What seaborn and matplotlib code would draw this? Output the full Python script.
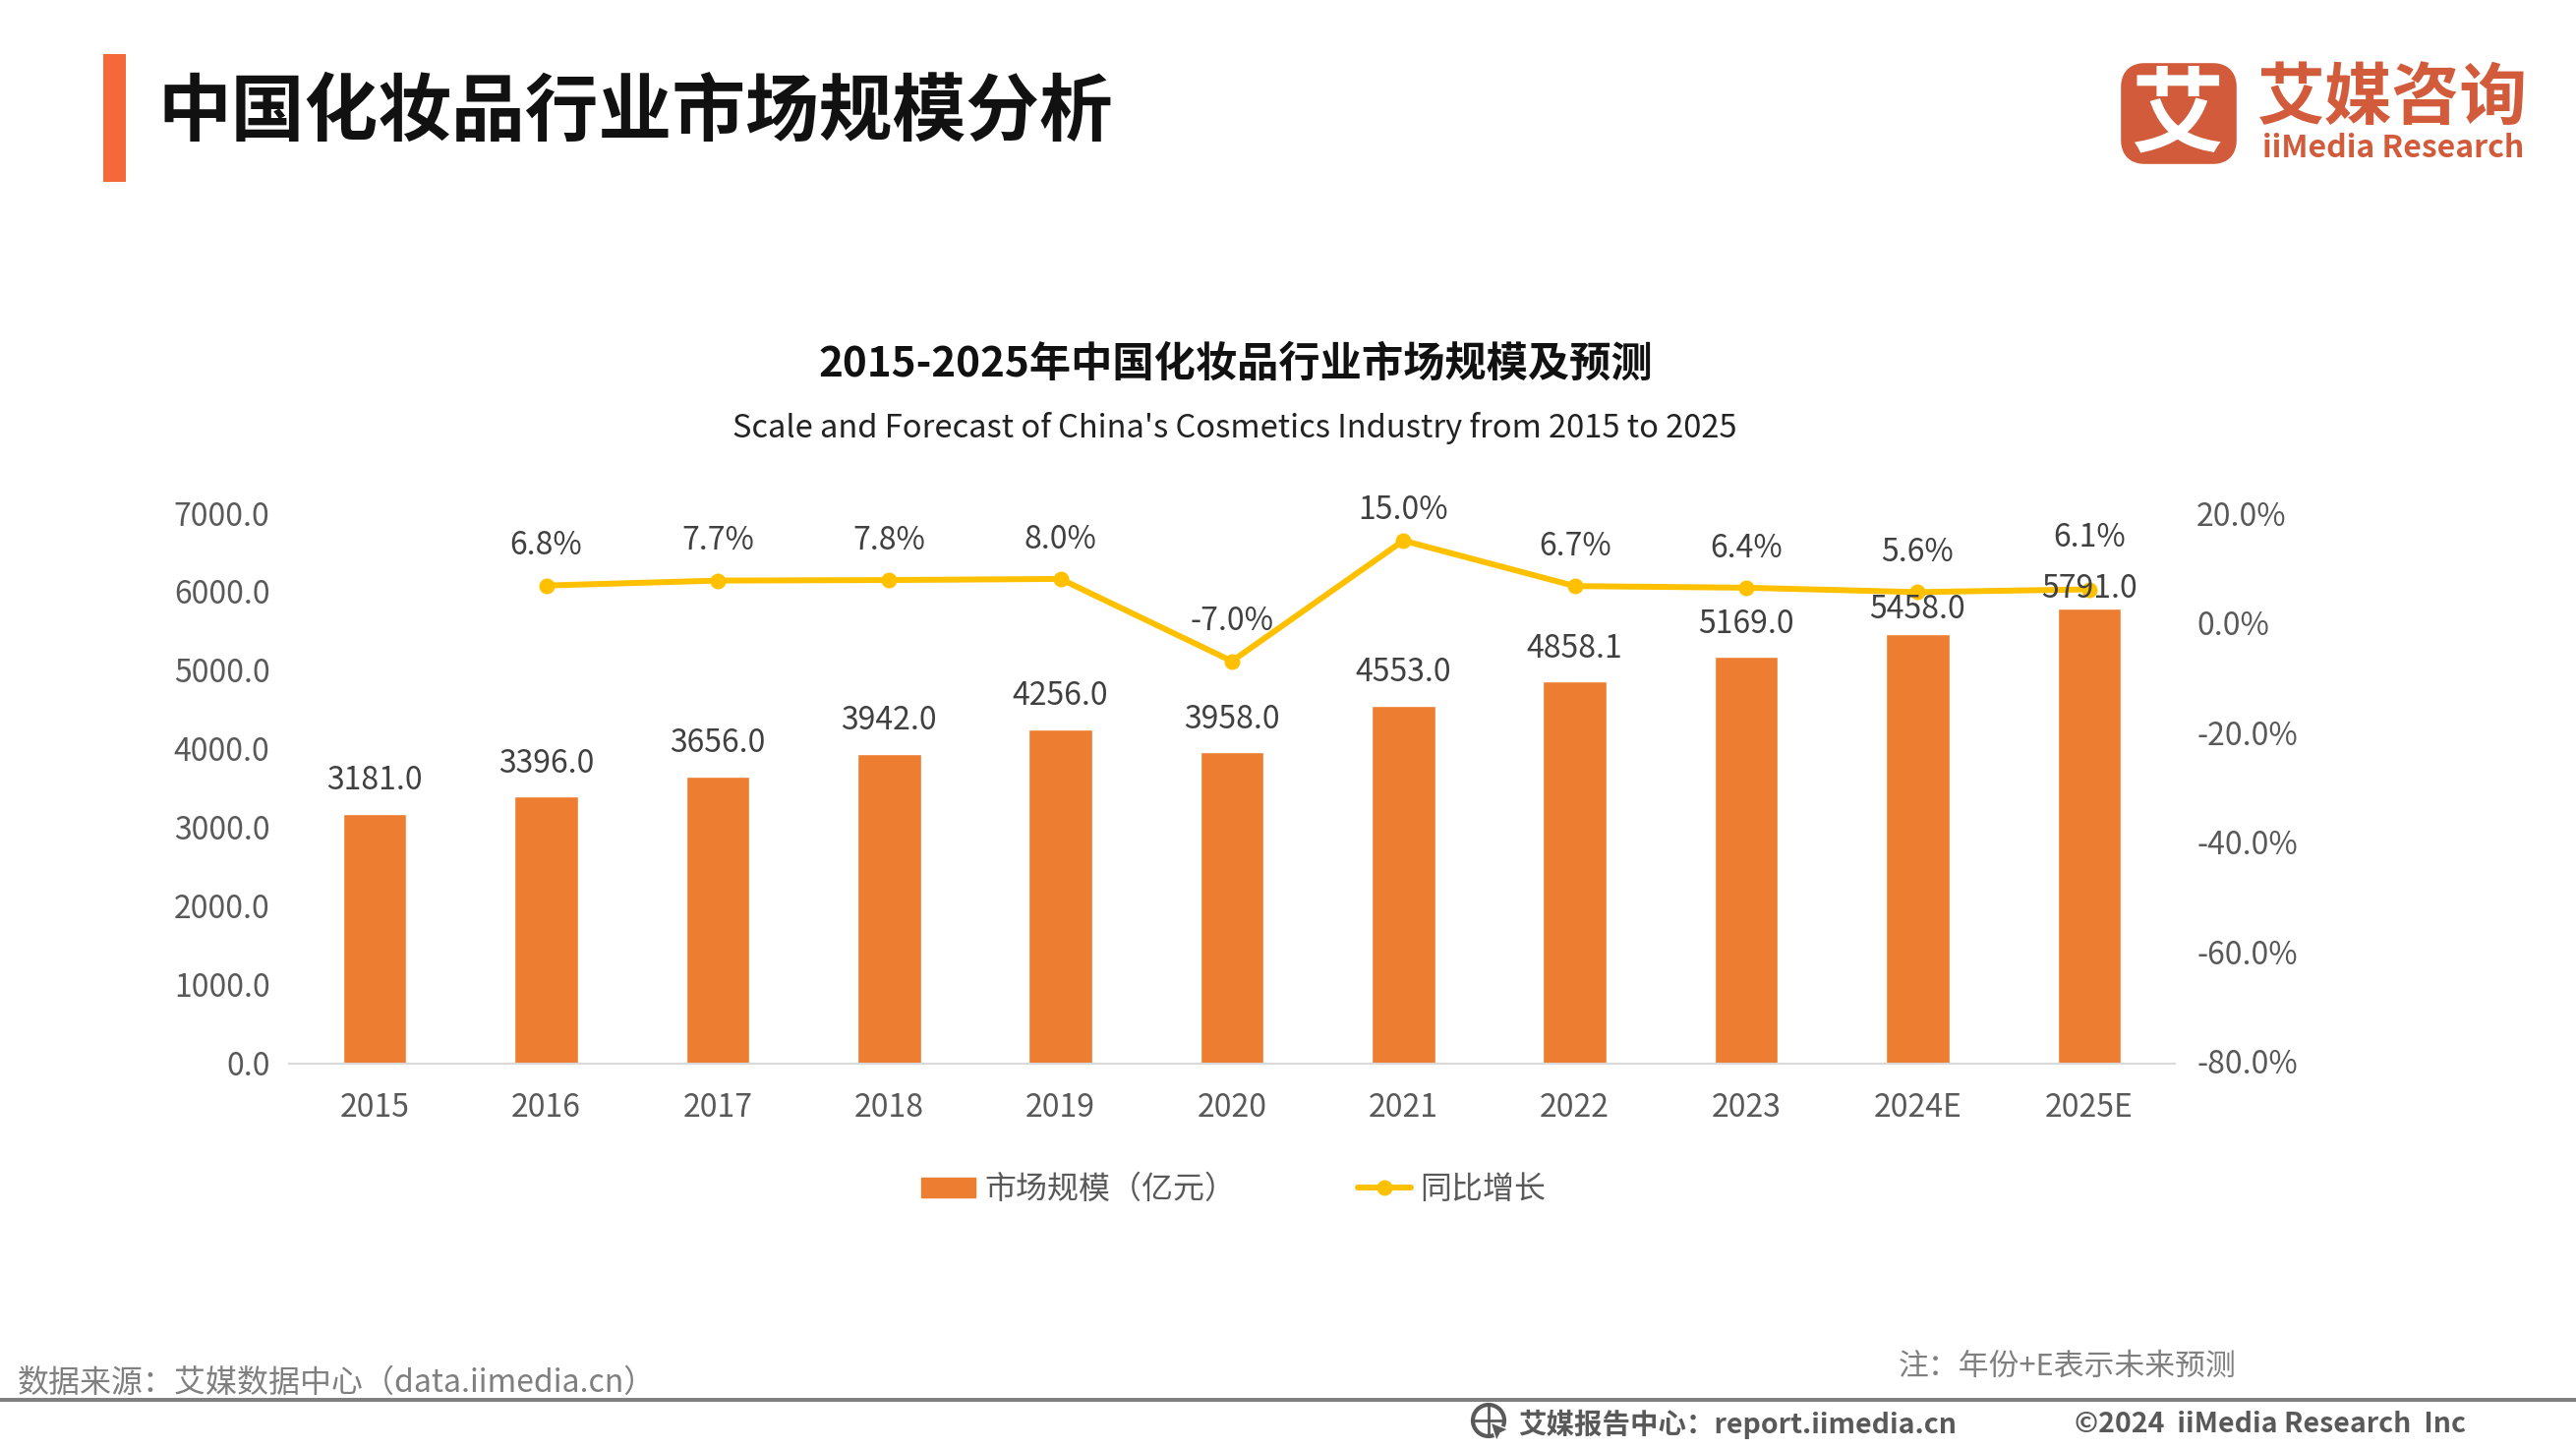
import matplotlib
matplotlib.use("Agg")
import matplotlib.pyplot as plt
from matplotlib.patches import FancyBboxPatch, Rectangle, Circle, Patch, Polygon
from matplotlib.lines import Line2D
import pandas as pd
import seaborn as sns

# ---- data ----
years = ["2015", "2016", "2017", "2018", "2019", "2020", "2021", "2022", "2023", "2024E", "2025E"]
market_size = [3181.0, 3396.0, 3656.0, 3942.0, 4256.0, 3958.0, 4553.0, 4858.1, 5169.0, 5458.0, 5791.0]
growth_years = ["2016", "2017", "2018", "2019", "2020", "2021", "2022", "2023", "2024E", "2025E"]
growth = [6.8, 7.7, 7.8, 8.0, -7.0, 15.0, 6.7, 6.4, 5.6, 6.1]
left_ticks = [0, 1000, 2000, 3000, 4000, 5000, 6000, 7000]
right_ticks = [-80, -60, -40, -20, 0, 20]

# ---- styles ----
W, H = 2620, 1474
sns.set_theme(style="white")
plt.rcParams["font.family"] = ["Noto Sans CJK SC", "DejaVu Sans"]
ORANGE = "#ED7D31"
YELLOW = "#FFC000"
TICK = "#595959"
LABEL = "#404040"
BRAND = "#D15B3B"
FS = 23

# label offsets in points above the mark
bar_off = {"2024E": 18, "2025E": 14}
pct_off = {"2021": 22, "2025E": 38}

fig = plt.figure(figsize=(W / 100, H / 100), dpi=100, facecolor="white")
ax = fig.add_axes([294 / W, 1 - 1082 / H, (2212 - 294) / W, 560 / H])

df = pd.DataFrame({"year": years, "size": market_size})
sns.barplot(data=df, x="year", y="size", color=ORANGE, saturation=1, width=0.37, ax=ax, order=years)
ax.set_xlim(-0.5, 10.5)
ax.set_ylim(0, 7000)
ax.set_yticks(left_ticks)
ax.set_yticklabels([f"{v:.1f}" for v in left_ticks], fontsize=FS, color=TICK, fontweight="light")
ax.tick_params(axis="x", labelsize=FS, labelcolor=TICK, length=0, pad=21)
for t in ax.get_xticklabels():
    t.set_fontweight("light")
ax.tick_params(axis="y", length=0, pad=14)
ax.set_xlabel("")
ax.set_ylabel("")
for s in ["top", "left", "right"]:
    ax.spines[s].set_visible(False)
ax.spines["bottom"].set_color("#D9D9D9")
ax.spines["bottom"].set_linewidth(1.5)

ax2 = ax.twinx()
gdf = pd.DataFrame({"year": growth_years, "growth": growth})
sns.lineplot(data=gdf, x="year", y="growth", sort=False, color=YELLOW, linewidth=4.3, marker="o",
             markersize=11.5, markeredgewidth=0, ax=ax2, legend=False, errorbar=None)
ax2.set_ylim(-80.4, 19.6)
ax2.set_xlim(-0.5, 10.5)
ax2.set_yticks(right_ticks)
ax2.set_yticklabels([f"{v:.1f}%" for v in right_ticks], fontsize=FS, color=TICK, fontweight="light")
ax2.tick_params(axis="y", length=0, pad=16)
ax2.set_xlabel("")
ax2.set_ylabel("")
for s in ax2.spines.values():
    s.set_visible(False)

# bar labels live on the upper axes so they are drawn over the line, as in the reference
for i, (y, v) in enumerate(zip(years, market_size)):
    ax2.annotate(f"{v:.1f}", (i, v), xycoords=ax.transData, xytext=(0, bar_off.get(y, 24)),
                 textcoords="offset points", ha="center", va="center", fontsize=FS, color=LABEL,
                 fontweight="light", zorder=10)
for y, v in zip(growth_years, growth):
    ax2.annotate(f"{v:.1f}%", (years.index(y), v), xytext=(0, pct_off.get(y, 29)), textcoords="offset points",
                 ha="center", va="center", fontsize=FS, color=LABEL, fontweight="light", zorder=10)

# legend
handles = [Patch(color=ORANGE, label="市场规模（亿元）"),
           Line2D([0], [0], color=YELLOW, lw=4.3, marker="o", ms=11.5, mew=0, label="同比增长")]
fig.legend(handles=handles, loc="center", bbox_to_anchor=(1255 / W, 1 - 1210 / H), ncol=2, frameon=False,
           prop={"size": FS, "weight": "light"}, labelcolor=TICK, handlelength=1.7, handletextpad=0.3,
           columnspacing=3.86, handleheight=0.6)

def T(x, y, s, **kw):
    kw.setdefault("va", "center")
    return fig.text(x / W, 1 - y / H, s, **kw)

# header
fig.add_artist(Rectangle((105 / W, 1 - 185 / H), 23 / W, 130 / H, transform=fig.transFigure, color="#F4683A", lw=0))
T(160, 115, "中国化妆品行业市场规模分析", fontsize=53.8, fontweight="bold", color="#111111")
T(1257, 371, "2015-2025年中国化妆品行业市场规模及预测", fontsize=30.4, fontweight="bold", color="#111111", ha="center")
T(1256, 435, "Scale and Forecast of China's Cosmetics Industry from 2015 to 2025", fontsize=23.5, color="#222222", ha="center")

# logo
overlay = fig.add_axes([0, 0, 1, 1], facecolor="none")
overlay.set_xlim(0, W)
overlay.set_ylim(H, 0)
overlay.axis("off")
overlay.add_patch(FancyBboxPatch((2169, 76), 94, 79, boxstyle="round,pad=0,rounding_size=12", mutation_aspect=1,
                                 fc=BRAND, ec=BRAND, lw=17, joinstyle="round"))
overlay.text(2214, 119, "艾", fontsize=68, fontweight="bold", color="white", ha="center", va="center")
overlay.text(2433, 101, "艾媒咨询", fontsize=49.5, fontweight="bold", color=BRAND, ha="center", va="center")
overlay.text(2434, 151, "iiMedia Research", fontsize=23, fontweight="bold", color=BRAND, ha="center", va="center")

# footer
overlay.plot([0, W], [1424, 1424], color="#808080", lw=2.9, solid_capstyle="butt")
overlay.text(18, 1407, "数据来源：艾媒数据中心（data.iimedia.cn）", fontsize=23, color="#7F7F7F", va="center", fontweight="light")
overlay.text(1931, 1390, "注：年份+E表示未来预测", fontsize=22.2, color="#7F7F7F", va="center", fontweight="light")
overlay.add_patch(Circle((1514, 1445), 16, fc="none", ec="#595959", lw=3))
overlay.plot([1498, 1530], [1445, 1445], color="#595959", lw=2)
overlay.plot([1514, 1514], [1429, 1461], color="#595959", lw=2)
overlay.add_patch(Polygon([[1516, 1447], [1534, 1454], [1526, 1458], [1522, 1466]], fc="#595959", ec="white", lw=1))
overlay.text(1544, 1449, "艾媒报告中心：report.iimedia.cn", fontsize=20.5, fontweight="bold", color="#595959", va="center")
overlay.text(2110, 1449, "©2024  iiMedia Research  Inc", fontsize=20.5, fontweight="bold", color="#595959", va="center")

fig.savefig("out.png", dpi=100, facecolor="white")
